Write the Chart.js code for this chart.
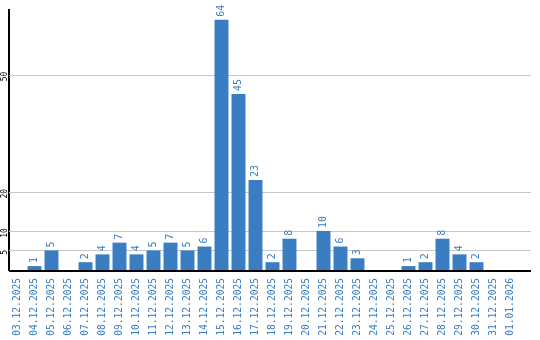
<!DOCTYPE html>
<html>
<head>
<meta charset="utf-8">
<script src="https://cdn.jsdelivr.net/npm/chart.js@4/dist/chart.umd.min.js"></script>
<style>
    html, body { margin: 0; padding: 0; background: #fff; }
    #wrap { width: 540px; height: 340px; }
</style>
</head>
<body>
<div id="wrap"><canvas id="myChart" width="540" height="340"></canvas></div>
<script>
const dates = ["03.12.2025", "04.12.2025", "05.12.2025", "06.12.2025", "07.12.2025", "08.12.2025",
    "09.12.2025", "10.12.2025", "11.12.2025", "12.12.2025", "13.12.2025", "14.12.2025",
    "15.12.2025", "16.12.2025", "17.12.2025", "18.12.2025", "19.12.2025", "20.12.2025",
    "21.12.2025", "22.12.2025", "23.12.2025", "24.12.2025", "25.12.2025", "26.12.2025",
    "27.12.2025", "28.12.2025", "29.12.2025", "30.12.2025", "31.12.2025", "01.01.2026"];
const counts = [0, 1, 5, 0, 2, 4, 7, 4, 5, 7, 5, 6, 64, 45, 23, 2, 8, 0, 10, 6, 3, 0, 0, 1, 2, 8, 4, 2, 0, 0];
const yTicks = [5, 10, 20, 50];

const blue = "#3a7dc2";
const mono = "'DejaVu Sans Mono', monospace";
const gridRight = 531; // grid lines run a bit past the last category

// grid lines and baseline, stretched to the right edge
const gridPlugin = {
    id: "grid",
    beforeDatasetsDraw(chart) {
        const ctx = chart.ctx;
        const y = chart.scales.y;
        const left = chart.chartArea.left;
        ctx.save();
        ctx.strokeStyle = "#c8c8c8";
        ctx.lineWidth = 1;
        yTicks.forEach(v => {
            const py = Math.round(y.getPixelForValue(v)) + 0.5;
            ctx.beginPath();
            ctx.moveTo(left, py);
            ctx.lineTo(gridRight, py);
            ctx.stroke();
        });
        ctx.restore();
    },
    afterDatasetsDraw(chart) {
        const ctx = chart.ctx;
        const y = chart.scales.y;
        ctx.save();
        ctx.strokeStyle = "#000";
        ctx.lineWidth = 2;
        const py = y.getPixelForValue(0) + 1;
        ctx.beginPath();
        ctx.moveTo(chart.chartArea.left, py);
        ctx.lineTo(gridRight, py);
        ctx.stroke();
        ctx.restore();
    }
};

// rotated value labels above bars + rotated y tick labels
const labelPlugin = {
    id: "labels",
    afterDatasetsDraw(chart) {
        const ctx = chart.ctx;
        const meta = chart.getDatasetMeta(0);
        ctx.save();
        ctx.fillStyle = blue;
        ctx.font = "10px " + mono;
        ctx.textAlign = "left";
        ctx.textBaseline = "middle";
        meta.data.forEach((bar, i) => {
            if (!counts[i]) return;
            ctx.save();
            ctx.translate(bar.x, bar.y - 3);
            ctx.rotate(-Math.PI / 2);
            ctx.fillText(String(counts[i]), 0, 0);
            ctx.restore();
        });
        const y = chart.scales.y;
        ctx.fillStyle = "#000";
        ctx.font = "8px " + mono;
        ctx.textAlign = "center";
        yTicks.forEach(v => {
            ctx.save();
            ctx.translate(5, y.getPixelForValue(v) + 2);
            ctx.rotate(-Math.PI / 2);
            ctx.fillText(String(v), 0, 0);
            ctx.restore();
        });
        ctx.restore();
    }
};

new Chart(document.getElementById("myChart"), {
    type: "bar",
    data: {
        labels: dates,
        datasets: [{
            data: counts,
            backgroundColor: blue,
            barPercentage: 0.82,
            categoryPercentage: 1
        }]
    },
    options: {
        responsive: false,
        animation: false,
        layout: { padding: { top: 10, right: 21, left: 0, bottom: 0 } },
        plugins: { legend: { display: false }, tooltip: { enabled: false } },
        scales: {
            x: {
                grid: { display: false },
                border: { display: false },
                ticks: {
                    color: blue,
                    font: { family: mono, size: 9.6 },
                    minRotation: 90,
                    maxRotation: 90,
                    autoSkip: false,
                    padding: 0
                },
                afterFit(s) { s.height = 70; }
            },
            y: {
                min: 0,
                max: 66.5,
                afterBuildTicks(s) { s.ticks = yTicks.map(v => ({ value: v })); },
                ticks: { display: false },
                grid: { display: false },
                border: { color: "#000", width: 2 },
                afterFit(s) { s.width = 9; }
            }
        }
    },
    plugins: [gridPlugin, labelPlugin]
});
</script>
</body>
</html>
